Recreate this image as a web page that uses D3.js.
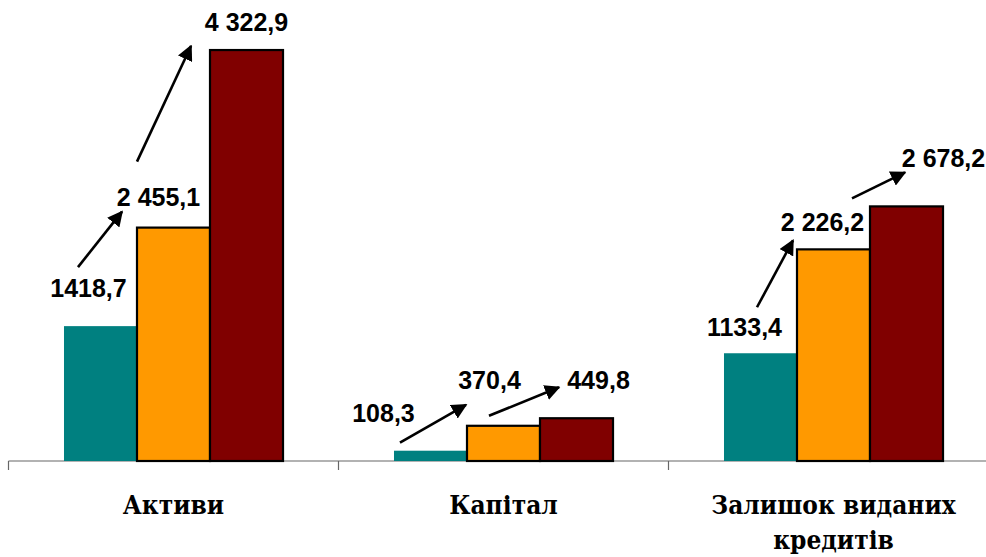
<!DOCTYPE html>
<html>
<head>
<meta charset="utf-8">
<script src="https://d3js.org/d3.v7.min.js"></script>
<style>
body { margin: 0; background: #fff; }
</style>
</head>
<body>
<script>
const categories = [["Активи"], ["Капітал"], ["Залишок виданих", "кредитів"]];
const seriesNames = ["s1", "s2", "s3"];
const values = [
  [1418.7, 2455.1, 4322.9],
  [108.3, 370.4, 449.8],
  [1133.4, 2226.2, 2678.2]
];
const valueLabels = [
  ["1418,7", "2 455,1", "4 322,9"],
  ["108,3", "370,4", "449,8"],
  ["1133,4", "2 226,2", "2 678,2"]
];
const colours = ["#008080", "#ff9900", "#800000"];

// label offsets from bar centre / top (layout only)
const labelShift = [
  [[-12, -29], [-15, -22], [0, -19]],
  [[-47, -29], [-14, -37], [22, -29]],
  [[-16, -17], [-11, -18], [37, -39]]
];
// arrow start (from bar left/top) and tip (to next bar left/top)
const arrowShift = [
  [[14, -59, -15, -16], [0, -66, -19, -4]],
  [[6, -8, -1, -21], [22, -10, 19, -31]],
  [[33, -46, -4, -9], [55, -51, 35, -34]]
];

const width = 986, height = 557;
const svg = d3.select("body").append("svg")
  .attr("width", width).attr("height", height);

svg.append("defs").append("marker")
  .attr("id", "head")
  .attr("viewBox", "0 0 10 10")
  .attr("refX", 9).attr("refY", 5)
  .attr("markerWidth", 6).attr("markerHeight", 6)
  .attr("markerUnits", "strokeWidth")
  .attr("orient", "auto")
  .append("path").attr("d", "M0,0L10,5L0,10z").attr("fill", "#000");

const x0 = d3.scaleBand().domain(d3.range(3)).range([8.5, 998.5]).padding(0);
const x1 = d3.scaleBand().domain(d3.range(3)).range([0, x0.bandwidth()])
  .paddingInner(0).paddingOuter(0.76);
const y = d3.scaleLinear().domain([0, 4500]).range([461, 33.2]);

// axis
const axis = svg.append("g").attr("transform", "translate(0,461)");
axis.append("line").attr("x1", 8.5).attr("x2", width).attr("stroke", "#666").attr("stroke-width", 1.2);
axis.selectAll("line.tick")
  .data(d3.range(4))
  .enter().append("line")
  .attr("class", "tick")
  .attr("x1", d => 8.5 + d * x0.step()).attr("x2", d => 8.5 + d * x0.step())
  .attr("y1", 0).attr("y2", 9)
  .attr("stroke", "#666").attr("stroke-width", 1.2);

const groups = svg.selectAll("g.grp")
  .data(values)
  .enter().append("g")
  .attr("class", "grp")
  .attr("transform", (d, i) => "translate(" + x0(i) + ",0)");

groups.selectAll("rect")
  .data(d => d)
  .enter().append("rect")
  .attr("x", (d, j) => x1(j))
  .attr("y", d => y(d))
  .attr("width", x1.bandwidth())
  .attr("height", d => y(0) - y(d))
  .attr("fill", (d, j) => colours[j])
  .attr("stroke", (d, j) => j == 0 ? "none" : "#000")
  .attr("stroke-width", 2.2);

// arrows
groups.each(function (d, i) {
  const g = d3.select(this);
  arrowShift[i].forEach((a, k) => {
    g.append("line")
      .attr("x1", x1(k) + a[0]).attr("y1", y(d[k]) + a[1])
      .attr("x2", x1(k + 1) + a[2]).attr("y2", y(d[k + 1]) + a[3])
      .attr("stroke", "#000").attr("stroke-width", 2.6)
      .attr("marker-end", "url(#head)");
  });
});

// value labels
groups.each(function (d, i) {
  d3.select(this).selectAll("text.val")
    .data(d)
    .enter().append("text")
    .attr("class", "val")
    .attr("x", (v, j) => x1(j) + x1.bandwidth() / 2 + labelShift[i][j][0])
    .attr("y", (v, j) => y(v) + labelShift[i][j][1])
    .attr("text-anchor", "middle")
    .style("font-family", "'Liberation Sans', Arial, sans-serif")
    .style("font-weight", "bold")
    .style("font-size", "25px")
    .text((v, j) => valueLabels[i][j]);
});

// category labels
const cat = svg.selectAll("text.cat")
  .data(categories)
  .enter().append("text")
  .attr("class", "cat")
  .attr("x", (d, i) => x0(i) + x0.bandwidth() / 2)
  .attr("y", 514)
  .attr("text-anchor", "middle")
  .style("font-family", "'DejaVu Serif Condensed', 'DejaVu Serif', serif")
  .style("font-stretch", "condensed")
  .style("font-weight", "bold")
  .style("font-size", "26px");
cat.selectAll("tspan")
  .data(d => d)
  .enter().append("tspan")
  .attr("x", function () { return d3.select(this.parentNode).attr("x"); })
  .attr("dy", (d, k) => k == 0 ? 0 : 35)
  .text(d => d);
</script>
</body>
</html>
